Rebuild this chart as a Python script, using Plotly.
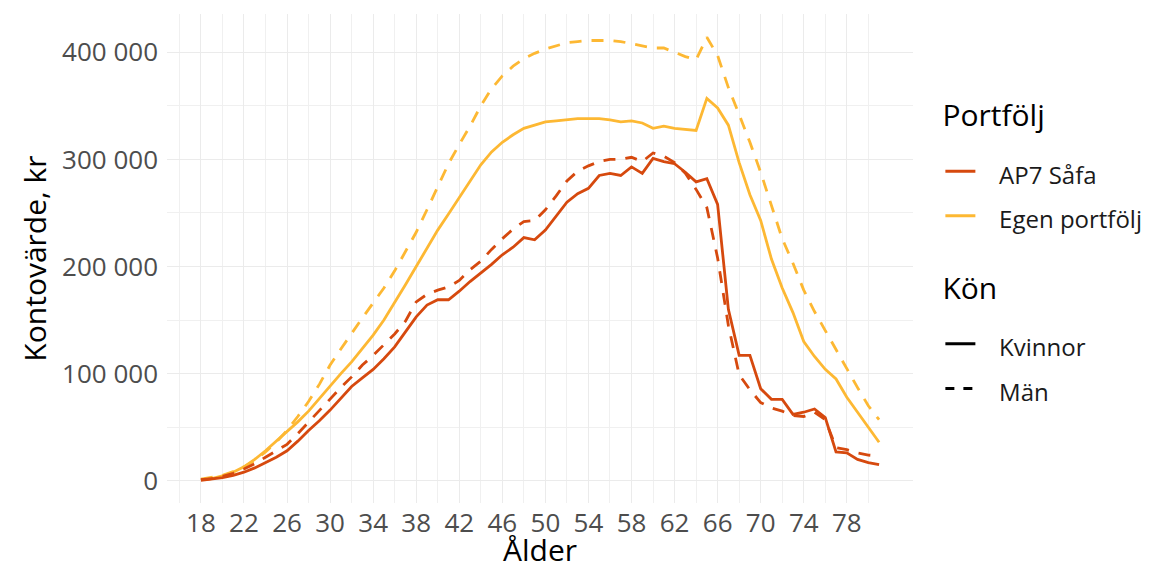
import plotly.graph_objects as go

ages = list(range(18, 82))

# values in thousands of kr
egen_kvinnor = [1, 2, 4.5, 8, 13, 20, 28, 37, 46, 55, 65, 77, 89, 100, 111, 123, 136, 150, 166, 183,
                200, 217, 234, 249, 264, 279, 295, 307, 316, 323, 329, 332, 335, 336, 337, 338, 338, 338,
                337, 335, 336, 334, 329, 331, 329, 328, 327, 357, 348, 332, 297, 267, 243, 207, 180, 157,
                130, 116, 104, 95, 78, 64, 50, 36]
egen_man = [1.5, 3, 5, 8.5, 13, 19, 27, 36, 47, 60, 74, 90, 108, 123, 138, 152, 166, 180, 196, 214,
            232, 253, 275, 296, 314, 331, 350, 366, 378, 387, 394, 399, 403, 406, 409, 410, 411, 411,
            411, 410, 408, 406, 404, 404, 400, 396, 393, 414, 397, 367, 342, 316, 288, 258, 226, 203,
            178, 158, 140, 122, 105, 87, 70, 57]
ap7_kvinnor = [0.5, 1.5, 3, 5, 8, 12, 17, 22, 28, 37, 47, 56, 66, 77, 88, 96, 104, 114, 125, 139,
               153, 164, 169, 169, 177, 186, 194, 202, 211, 218, 227, 225, 234, 247, 260, 268, 273, 285,
               287, 285, 293, 287, 301, 298, 296, 288, 279, 282, 258, 160, 117, 117, 86, 76, 76, 62,
               64, 67, 59, 27, 26, 20, 17, 15]
ap7_man = [1, 2, 4, 7, 11, 16, 22, 28, 34, 44, 55, 65, 76, 87, 97, 108, 117, 127, 137, 149,
           167, 174, 178, 181, 187, 197, 205, 216, 226, 235, 242, 243, 253, 266, 280, 289, 294, 298,
           300, 300, 302, 298, 306, 303, 297, 287, 272, 255, 208, 145, 99, 85, 73, 68, 65, 61,
           60, 64, 57, 31, 29, 26, 24, 23]

portfolj_names = ["AP7 Såfa", "Egen portfölj"]
kon_names = ["Kvinnor", "Män"]

x_tickvals = list(range(18, 79, 4))
x_minorvals = list(range(16, 83, 4))
y_tickvals = [0, 100000, 200000, 300000, 400000]
y_ticktext = ["0", "100 000", "200 000", "300 000", "400 000"]
y_minorvals = [50000, 150000, 250000, 350000]

RED = "#D6490E"
YEL = "#FDB833"
FONT = "Open Sans"
LW = 2.8
DASH = "12px,10px"

series = [
    (egen_kvinnor, YEL, "solid"),
    (egen_man, YEL, DASH),
    (ap7_kvinnor, RED, "solid"),
    (ap7_man, RED, DASH),
]

fig = go.Figure()
for vals, col, dash in series:
    fig.add_trace(go.Scatter(
        x=ages, y=[v * 1000 for v in vals], mode="lines",
        line=dict(color=col, width=LW, dash=dash),
        showlegend=False, hoverinfo="skip"))


def item(name):
    # text drawn at 24px with a small lead gap; the legend's own (larger) font size sets the row height
    return f'<span style="font-size:24px">\u00a0\u00a0\u00a0{name}</span>'


def ttl(name):
    # raised with <sup>, drawn at 30px
    return f'<sup><span style="font-size:30px;color:#000000">{name}</span></sup>'


# legend entries
for name, col in zip(portfolj_names, [RED, YEL]):
    fig.add_trace(go.Scatter(
        x=[None], y=[None], mode="lines", name=item(name),
        line=dict(color=col, width=3), legend="legend"))
for name, dash in zip(kon_names, ["solid", "9px,9px"]):
    fig.add_trace(go.Scatter(
        x=[None], y=[None], mode="lines", name=item(name),
        line=dict(color="#000000", width=3, dash=dash), legend="legend2"))

legend_common = dict(
    xanchor="left", yanchor="top",
    font=dict(size=32, color="#1a1a1a", family=FONT),
    bgcolor="rgba(0,0,0,0)", traceorder="normal")

# page body has an 8px margin, so the figure is offset by 8px
fig.update_layout(
    width=1143, height=562,
    margin=dict(l=159, r=238, t=6, b=67, autoexpand=False),
    paper_bgcolor="white", plot_bgcolor="white",
    font=dict(family=FONT, size=26, color="#4D4D4D"),
    legend=dict(x=1.0367, y=0.846,
                title=dict(text=ttl("Portfölj"), font=dict(size=42, family=FONT, color="#000000")),
                **legend_common),
    legend2=dict(x=1.0367, y=0.493,
                 title=dict(text=ttl("Kön"), font=dict(size=42, family=FONT, color="#000000")),
                 **legend_common),
    xaxis=dict(
        range=[14.85, 84.15], tickmode="array", tickvals=x_tickvals,
        showgrid=True, gridcolor="#EBEBEB", gridwidth=1.4, zeroline=False,
        showline=False, ticks="", ticklabelstandoff=2,
        tickfont=dict(size=26, color="#4D4D4D", family=FONT),
        minor=dict(tickmode="array", tickvals=x_minorvals, showgrid=True,
                   gridcolor="#F0F0F0", gridwidth=1),
        title=dict(text="Ålder", font=dict(size=30, color="#000000", family=FONT), standoff=1),
        automargin=False),
    yaxis=dict(
        range=[-20750, 435750], tickmode="array", tickvals=y_tickvals, ticktext=y_ticktext,
        showgrid=True, gridcolor="#EBEBEB", gridwidth=1.4, zeroline=False,
        showline=False, ticks="", ticklabelstandoff=8,
        tickfont=dict(size=26, color="#4D4D4D", family=FONT),
        minor=dict(tickmode="array", tickvals=y_minorvals, showgrid=True,
                   gridcolor="#F0F0F0", gridwidth=1),
        title=dict(text="Kontovärde, kr", font=dict(size=30, color="#000000", family=FONT), standoff=6),
        automargin=False),
)

fig.write_html("out.html")
